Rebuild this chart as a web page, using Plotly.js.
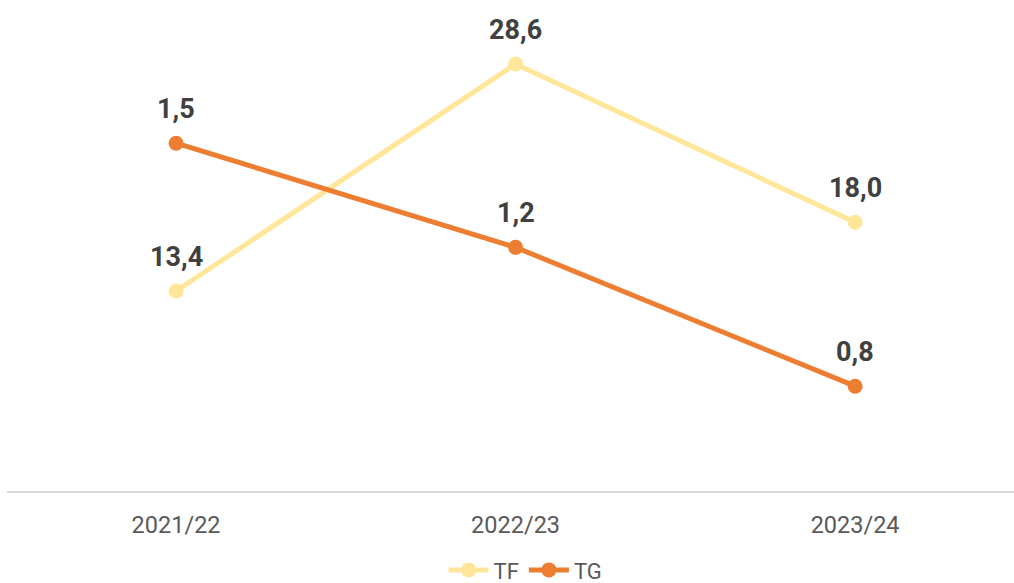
<!DOCTYPE html>
<html>
<head>
<meta charset="utf-8">
<script src="https://cdn.plot.ly/plotly-3.0.1.min.js"></script>
<style>html,body{margin:0;padding:0;background:#fff;}#chart{width:1014px;height:583px;}</style>
</head>
<body>
<div id="chart"></div>
<script>
const categories = ['2021/22', '2022/23', '2023/24'];
const tfValues = [13.4, 28.6, 18.0];
const tgValues = [1.5, 1.2, 0.8];
const seriesNames = ['TF', 'TG'];

const fmt = v => v.toFixed(1).replace('.', ',');
const labelFont = {family: 'Roboto, sans-serif', size: 27, color: '#404040', weight: 'bold'};

const traces = [
  {x: categories, y: tfValues, name: seriesNames[0], type: 'scatter', mode: 'lines+markers',
   line: {color: '#FFE699', width: 5}, marker: {color: '#FFE699', size: 15}, yaxis: 'y', hoverinfo: 'none'},
  {x: categories, y: tgValues, name: seriesNames[1], type: 'scatter', mode: 'lines+markers',
   line: {color: '#ED7D31', width: 5}, marker: {color: '#ED7D31', size: 15}, yaxis: 'y2', hoverinfo: 'none'}
];

const annotations = [];
categories.forEach((c, i) => {
  annotations.push({x: c, y: tfValues[i], xref: 'x', yref: 'y', text: '<b>' + fmt(tfValues[i]) + '</b>',
    showarrow: false, yshift: 34, yanchor: 'middle', font: labelFont});
  annotations.push({x: c, y: tgValues[i], xref: 'x', yref: 'y2', text: '<b>' + fmt(tgValues[i]) + '</b>',
    showarrow: false, yshift: 34, yanchor: 'middle', font: labelFont});
});

const layout = {
  width: 1014, height: 583,
  margin: {l: 7, r: 0, t: 20, b: 92, autoexpand: false},
  paper_bgcolor: '#ffffff', plot_bgcolor: '#ffffff',
  showlegend: true,
  legend: {orientation: 'h', x: 0.515, xanchor: 'center', y: -0.168, yanchor: 'middle',
    font: {family: 'Roboto, sans-serif', size: 22, color: '#595959'}, tracegroupgap: 0, itemwidth: 40},
  xaxis: {type: 'category', range: [-0.498, 2.468], showgrid: false, zeroline: false,
    showline: true, linecolor: '#D9D9D9', linewidth: 2, ticks: '',
    tickfont: {family: 'Roboto, sans-serif', size: 23.5, color: '#595959'}, ticklabelstandoff: 12},
  yaxis: {range: [0, 31.55], visible: false, showgrid: false, zeroline: false, fixedrange: true},
  yaxis2: {range: [0.498, 1.855], overlaying: 'y', visible: false, showgrid: false, zeroline: false},
  annotations: annotations
};

Plotly.newPlot('chart', traces, layout, {displayModeBar: false, staticPlot: true});
</script>
</body>
</html>
